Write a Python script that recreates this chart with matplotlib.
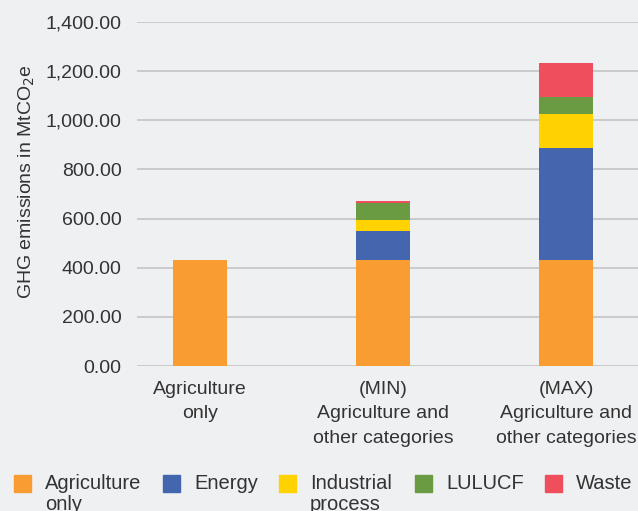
import numpy as np
import matplotlib
matplotlib.use("Agg")
import matplotlib.pyplot as plt
from matplotlib.patches import Rectangle

# data
categories = ["Agriculture\nonly", "(MIN)\nAgriculture and\nother categories",
              "(MAX)\nAgriculture and\nother categories"]
series = ["Agriculture\nonly", "Energy", "Industrial\nprocess", "LULUCF", "Waste"]
agriculture = [430, 430, 432]
energy = [0, 120, 455]
industrial = [0, 45, 140]
lulucf = [0, 67, 68]
waste = [0, 8, 140]
values = [agriculture, energy, industrial, lulucf, waste]
colors = ["#F99D33", "#4466AE", "#FFD200", "#6A9A42", "#EF4F5C"]
yticks = [0, 200, 400, 600, 800, 1000, 1200, 1400]

bg = "#EFF0F2"
txt = "#333333"
plt.rcParams["font.family"] = ["Liberation Sans", "DejaVu Sans"]
plt.rcParams["font.size"] = 14

fig = plt.figure(figsize=(6.38, 5.11), dpi=100, facecolor=bg)
W, H = 638, 511
ax = fig.add_axes([137 / W, (H - 366) / H, (W - 137) / W, 344 / H], facecolor=bg)

x = np.arange(len(categories))
bottom = np.zeros(len(categories))
for vals, c in zip(values, colors):
    ax.bar(x, vals, width=0.295, bottom=bottom, color=c, zorder=3)
    bottom += np.array(vals)

ax.set_xlim(-0.344, 2.392)
ax.set_ylim(0, 1400)
ax.set_yticks(yticks)
ax.set_yticklabels(["{:,.2f}".format(v) for v in yticks], color=txt)
ax.set_xticks(x)
ax.set_xticklabels(categories, color=txt, linespacing=1.55)
ax.tick_params(axis="y", length=0, pad=11)
ax.tick_params(axis="x", length=0, pad=11)
ax.grid(axis="y", color="#C8C8C8", linewidth=1.3, zorder=0)
for s in ax.spines.values():
    s.set_visible(False)

ax.set_ylabel("GHG emissions in MtCO$_2$e", color=txt)
ax.yaxis.set_label_coords((37 - 137) / (W - 137), 0.535)

# legend drawn by hand so two-line labels hang below the square
sq_x = [14, 163, 279, 415, 545]
for sx, lab, c in zip(sq_x, series, colors):
    fig.add_artist(Rectangle((sx / W, (H - 492) / H), 17 / W, 17 / H,
                             transform=fig.transFigure, color=c))
    fig.text((sx + 31) / W, (H - 474) / H, lab, va="top", ha="left",
             color=txt, linespacing=1.15, fontsize=14.5)

fig.savefig("out.png", dpi=100, facecolor=bg)
